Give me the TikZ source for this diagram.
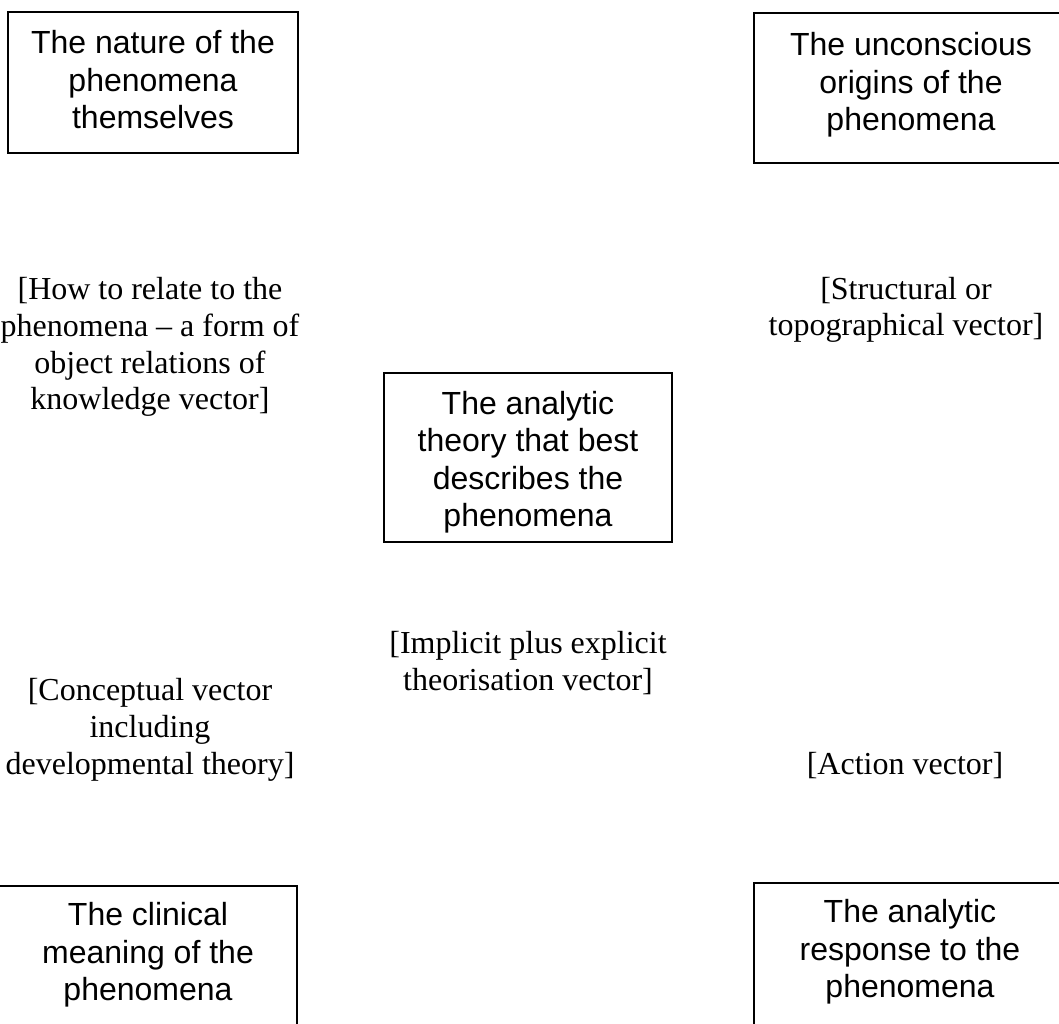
\documentclass[tikz,border=0pt]{standalone}
\usepackage{fontspec}
\newfontfamily\boxfont{Liberation Sans}
\newfontfamily\labfont{Liberation Serif}
\begin{document}
\begin{tikzpicture}[x=1pt,y=-1pt,
  boxtext/.style={align=center,inner sep=0pt,font=\boxfont\fontsize{32}{37.5}\selectfont},
  labtext/.style={align=center,inner sep=0pt,font=\labfont\fontsize{32}{36.7}\selectfont},
  frame/.style={draw=black,line width=1.2pt}]
\useasboundingbox (0,0) rectangle (1059,1024);
\fill[white] (0,0) rectangle (1059,1024);

% boxes
\node[boxtext] (t1) at (153,80) {The nature of the\\phenomena\\themselves};
\draw[frame] ([shift={(-145,-68)}]t1.center) rectangle ([shift={(145,73)}]t1.center);

\node[boxtext] (t2) at (911,85) {The unconscious\\origins of the\\phenomena};
\draw[frame] ([shift={(-157,-72)}]t2.center) rectangle ([shift={(157,78)}]t2.center);

\node[boxtext] (t3) at (528,462) {The analytic\\theory that best\\describes the\\phenomena};
\draw[frame] ([shift={(-144,-89)}]t3.center) rectangle ([shift={(144,80)}]t3.center);

\node[boxtext] (t4) at (148,955) {The clinical\\meaning of the\\phenomena};
\draw[frame] ([shift={(-149,-69)}]t4.center) rectangle ([shift={(149,85)}]t4.center);

\node[boxtext] (t5) at (910,952) {The analytic\\response to the\\phenomena};
\draw[frame] ([shift={(-156,-69)}]t5.center) rectangle ([shift={(158,90)}]t5.center);

% labels
\node[labtext] (l1) at (150,347) {[How to relate to the\\phenomena – a form of\\object relations of\\knowledge vector]};
\node[labtext] (l2) at (906,310) {[Structural or\\topographical vector]};
\node[labtext] (l3) at (528,663) {[Implicit plus explicit\\theorisation vector]};
\node[labtext] (l4) at (150,730) {[Conceptual vector\\including\\developmental theory]};
\node[labtext] (l5) at (905,766) {[Action vector]};
\end{tikzpicture}
\end{document}
